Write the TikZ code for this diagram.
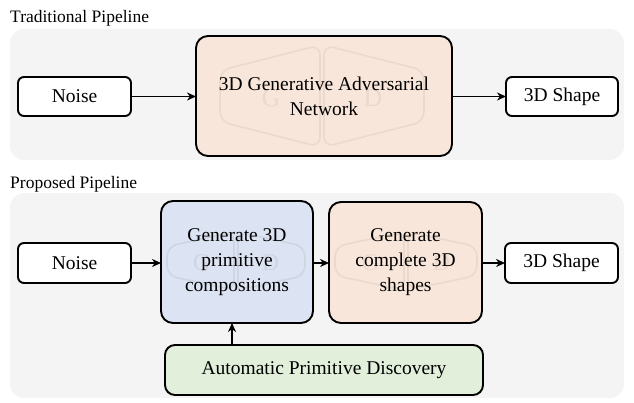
\documentclass[tikz,border=0pt]{standalone}
\usepackage{fontspec}
\setmainfont{Liberation Serif}
\usetikzlibrary{arrows.meta}
\definecolor{panelgray}{HTML}{F4F4F4}
\definecolor{peach}{HTML}{F9E6DA}
\definecolor{peachline}{HTML}{EBD9CD}
\definecolor{bluefill}{HTML}{DCE3F2}
\definecolor{blueline}{HTML}{CED5E3}
\definecolor{greenfill}{HTML}{E2EFDA}
\newcommand\wmshapes[6]{% cx cy halfwidth halfheight color fontsize
  \begin{scope}[shift={(#1,#2)}]
    \draw[#5, line width=1.6pt, rounded corners=10pt]
      (-2,-#4) -- (-2,#4) -- (-#3,{#4*0.5}) -- (-#3,{-#4*0.5}) -- cycle;
    \draw[#5, line width=1.6pt, rounded corners=10pt]
      (2,-#4) -- (2,#4) -- (#3,{#4*0.5}) -- (#3,{-#4*0.5}) -- cycle;
    \node[text=#5, font=\fontsize{#6}{#6}\selectfont] at ({-#3*0.5},2) {G};
    \node[text=#5, font=\fontsize{#6}{#6}\selectfont] at ({#3*0.5},2) {D};
  \end{scope}}
\tikzset{
  smallbox/.style={draw=black, line width=1.9pt, fill=white, rounded corners=6pt},
  bigbox/.style={draw=black, line width=1.9pt, rounded corners=12pt},
  lbl/.style={font=\fontsize{19.5}{25}\selectfont, align=center},
  conn/.style={-{Stealth[length=9pt,width=8pt]}, line width=1.8pt},
  title/.style={font=\fontsize{17.5}{20}\selectfont, anchor=base west, inner sep=0pt}
}
\begin{document}
\begin{tikzpicture}[x=1pt, y=-1pt]
\useasboundingbox (0,0) rectangle (634,402);
% titles
\node[title] (t1) at (10,22) {Traditional Pipeline};
\node[title] (t2) at (10,188) {Proposed Pipeline};
% panels
\fill[panelgray, rounded corners=14pt] (10,29) rectangle (624,160);
\fill[panelgray, rounded corners=14pt] (10,193) rectangle (624,398);
% --- traditional
\draw[smallbox] (18,77) rectangle (131,116);
\node[lbl] (n1) at (74.5,96.5) {Noise};
\coordinate (n1e) at (131,96.5);
\draw[bigbox, fill=peach] (196,36) rectangle (452,156);
\wmshapes{322}{96}{102}{51}{peachline}{26}
\node[lbl] (gan) at (324,96) {3D Generative Adversarial\\Network};
\coordinate (gw) at (196,96.5);
\coordinate (ge) at (452,96.5);
\draw[smallbox] (506,77) rectangle (618,116);
\node[lbl] (s1) at (562,96.5) {3D Shape};
\coordinate (s1w) at (506,96.5);
\draw[conn] (n1e) -- (gw);
\draw[conn] (ge) -- (s1w);
% --- proposed
\draw[smallbox] (18,243) rectangle (131,283);
\node[lbl] (n2) at (74.5,263) {Noise};
\coordinate (n2e) at (131,263);
\draw[bigbox, fill=bluefill] (161,201) rectangle (313,323);
\wmshapes{236}{261}{69}{29}{blueline}{24}
\node[lbl] (prim) at (237,262) {Generate 3D\\primitive\\compositions};
\draw[bigbox, fill=peach] (329,202) rectangle (482,323);
\wmshapes{406}{261}{71}{29}{peachline}{24}
\node[lbl] (comp) at (405.5,262) {Generate\\complete 3D\\shapes};
\draw[smallbox] (505,243) rectangle (618,283);
\node[lbl] (s2) at (561.5,263) {3D Shape};
\draw[bigbox, fill=greenfill, rounded corners=10pt] (165,345) rectangle (483,395);
\node[lbl] (apd) at (324,370) {Automatic Primitive Discovery};
\coordinate (pw) at (161,263);
\coordinate (pe) at (313,263);
\coordinate (cw) at (329,263);
\coordinate (ce) at (482,263);
\coordinate (s2w) at (505,263);
\coordinate (pb) at (232,323);
\coordinate (at) at (232,345);
\draw[conn] (n2e) -- (pw);
\draw[conn] (pe) -- (cw);
\draw[conn] (ce) -- (s2w);
\draw[conn] (at) -- (pb);
\end{tikzpicture}
\end{document}
